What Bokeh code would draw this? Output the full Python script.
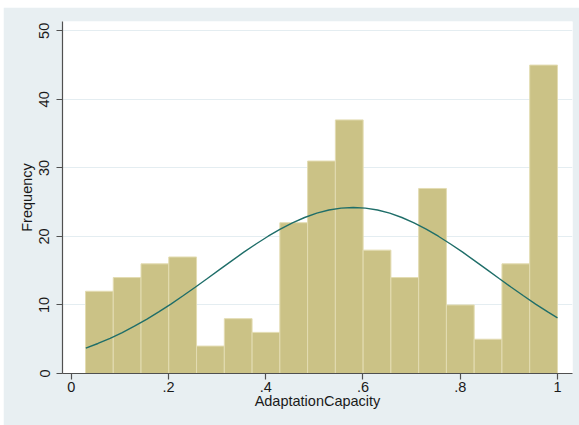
import math
from bokeh.plotting import figure
from bokeh.models import Range1d, FixedTicker, ColumnDataSource
from bokeh.embed import file_html
from bokeh.resources import INLINE

# Histogram data (AdaptationCapacity)
counts = [12, 14, 16, 17, 4, 8, 6, 22, 31, 37, 18, 14, 27, 10, 5, 16, 45]
bin_min = 0.0294
bin_max = 1.0

# Normal density overlay
curve_x = [0.03, 0.055, 0.08, 0.105, 0.13, 0.155, 0.18, 0.205, 0.23, 0.255, 0.28,
           0.305, 0.33, 0.355, 0.38, 0.405, 0.43, 0.455, 0.48, 0.505, 0.53, 0.555,
           0.58, 0.605, 0.63, 0.655, 0.68, 0.705, 0.73, 0.755, 0.78, 0.805, 0.83,
           0.855, 0.88, 0.905, 0.93, 0.955, 0.98, 1.00]
curve_y = [3.71, 4.38, 5.14, 5.98, 6.90, 7.91, 8.98, 10.13, 11.34, 12.58, 13.86,
           15.16, 16.44, 17.70, 18.90, 20.03, 21.07, 21.98, 22.76, 23.39, 23.85, 24.13,
           24.22, 24.13, 23.85, 23.39, 22.76, 21.98, 21.07, 20.03, 18.90, 17.70, 16.44,
           15.16, 13.86, 12.58, 11.34, 10.13, 8.98, 8.11]

x_ticks = [0, 0.2, 0.4, 0.6, 0.8, 1.0]
x_tick_labels = ["0", ".2", ".4", ".6", ".8", "1"]
y_ticks = [0, 10, 20, 30, 40, 50]

n = len(counts)
w = (bin_max - bin_min) / n
lefts = [bin_min + i * w for i in range(n)]
rights = [bin_min + (i + 1) * w for i in range(n)]

src = ColumnDataSource(dict(left=lefts, right=rights, top=counts, bottom=[0] * n))

BG = "#e8eff2"
FONT = "Liberation Sans"

p = figure(width=576, height=418, output_backend="svg", toolbar_location=None,
           x_range=Range1d(-0.0179, 1.0309), y_range=Range1d(0, 51.36),
           min_border_left=59, min_border_right=7, min_border_top=14, min_border_bottom=52)
p.margin = (7, 0, 0, 3)
p.background_fill_color = "white"
p.border_fill_color = BG
p.outline_line_color = None

p.quad(left="left", right="right", top="top", bottom="bottom", source=src,
       fill_color="#cbc286", line_color="#e3dcb2", line_width=1)
p.line(curve_x, curve_y, line_color="#1f6e69", line_width=1.4)

p.xgrid.grid_line_color = None
p.ygrid.grid_line_color = "#e4edf1"
p.ygrid.grid_line_width = 1
p.ygrid.ticker = FixedTicker(ticks=y_ticks)

p.xaxis.ticker = FixedTicker(ticks=x_ticks)
p.xaxis.major_label_overrides = {t: l for t, l in zip(x_ticks, x_tick_labels)}
p.yaxis.ticker = FixedTicker(ticks=y_ticks)
p.yaxis.major_label_orientation = "parallel"

for ax in (p.xaxis[0], p.yaxis[0]):
    ax.axis_line_color = "#505050"
    ax.axis_line_width = 1.2
    ax.major_tick_line_color = "#505050"
    ax.major_tick_line_width = 1.2
    ax.major_tick_out = 6
    ax.major_tick_in = 0
    ax.minor_tick_line_color = None
    ax.major_label_text_font = FONT
    ax.major_label_text_font_size = "14.5px"
    ax.major_label_text_color = "#1a1a1a"
    ax.axis_label_text_font = FONT
    ax.axis_label_text_font_size = "14.5px"
    ax.axis_label_text_font_style = "normal"
    ax.axis_label_text_color = "#1a1a1a"

p.xaxis.axis_label = "AdaptationCapacity"
p.yaxis.axis_label = "Frequency"
p.xaxis.major_label_standoff = 2
p.xaxis.axis_label_standoff = -2
p.yaxis.major_label_standoff = 7
p.yaxis.axis_label_standoff = 2

open("out.html", "w").write(file_html(p, INLINE))
